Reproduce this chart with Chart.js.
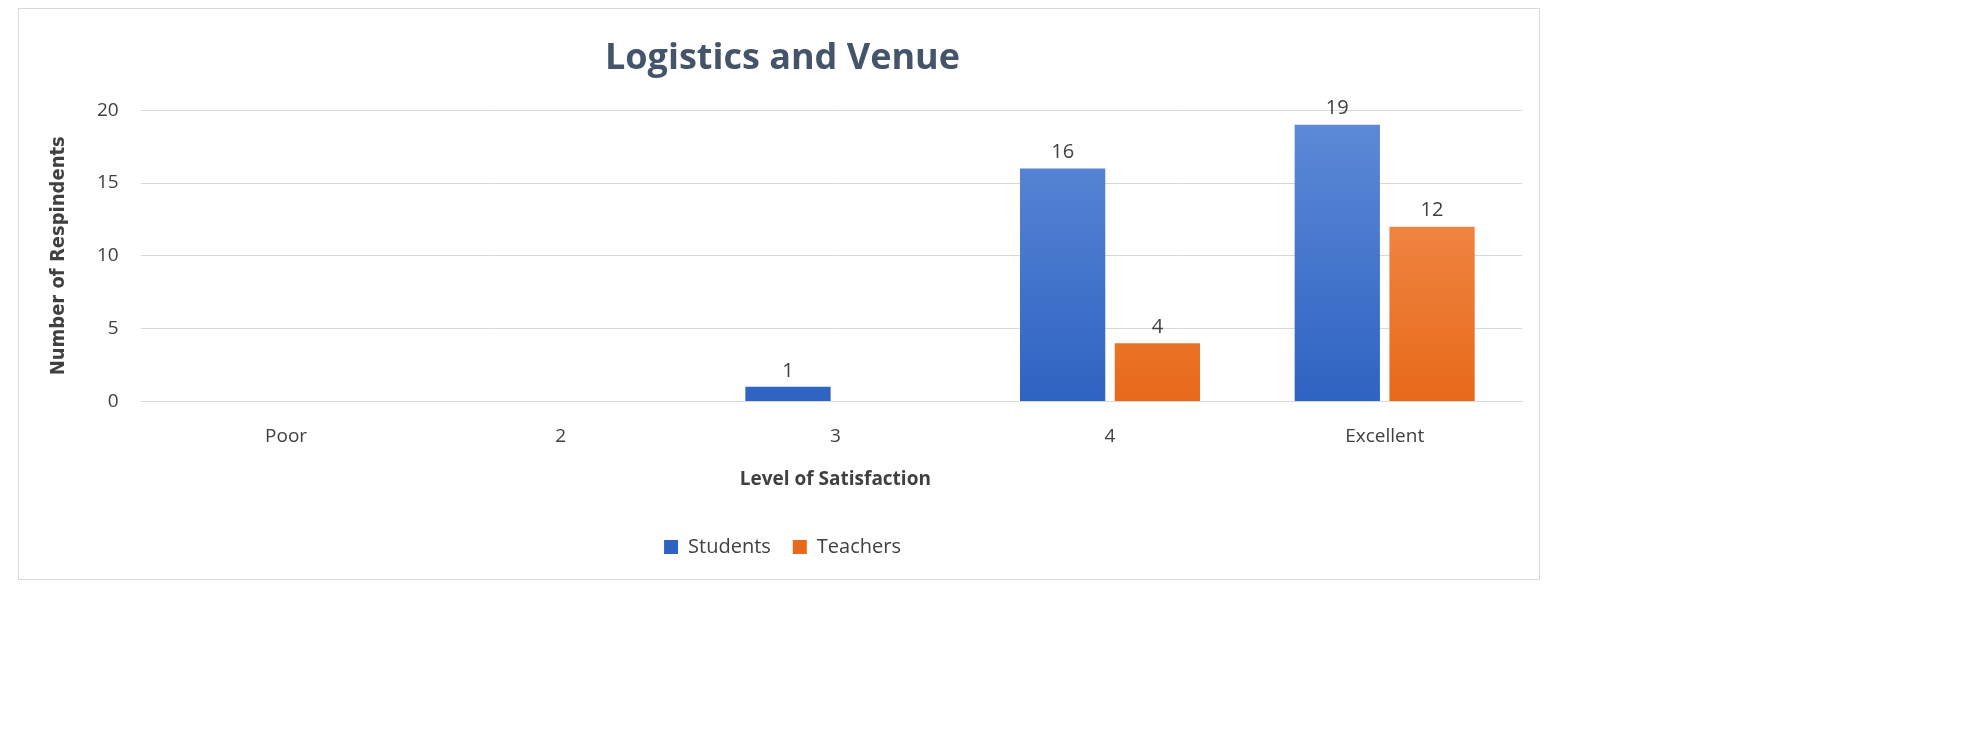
<!DOCTYPE html>
<html>
<head>
<meta charset="utf-8">
<script src="https://cdn.jsdelivr.net/npm/chart.js@4"></script>
<style>
  body { margin: 0; background: #fff; }
  #box { position: absolute; left: 18px; top: 8px; width: 1522px; height: 572px; border: 1px solid #d9d9d9; box-sizing: border-box; }
</style>
</head>
<body>
<div id="box"><canvas id="c"></canvas></div>
<script>
const levels = ['Poor', '2', '3', '4', 'Excellent'];
const students = [0, 0, 1, 16, 19];
const teachers = [0, 0, 0, 4, 12];

// vertical gradient for bars
function grad(ctx, top, bottom) {
    const area = ctx.chart.chartArea;
    if (!area) return bottom;
    const g = ctx.chart.ctx.createLinearGradient(0, area.top, 0, area.bottom);
    g.addColorStop(0, top);
    g.addColorStop(1, bottom);
    return g;
}

const labelPlugin = {
    id: 'vals',
    afterDatasetsDraw(chart) {
        const c = chart.ctx;
        c.save();
        c.font = '20px "Open Sans"';
        c.fillStyle = '#404040';
        c.textAlign = 'center';
        chart.data.datasets.forEach((ds, i) => {
            chart.getDatasetMeta(i).data.forEach((bar, j) => {
                if (ds.data[j] > 0) c.fillText(ds.data[j], bar.x, bar.y - 16);
            });
        });
        c.restore();
    }
};

new Chart(document.getElementById('c'), {
    type: 'bar',
    data: {
        labels: levels,
        datasets: [
            { label: 'Students', data: students, backgroundColor: ctx => grad(ctx, '#5F8BD8', '#2F63C2') },
            { label: 'Teachers', data: teachers, backgroundColor: ctx => grad(ctx, '#F3965C', '#E8691A') }
        ]
    },
    options: {
        responsive: true,
        maintainAspectRatio: false,
        animation: false,
        categoryPercentage: 0.69,
        barPercentage: 0.9,
        layout: { padding: { left: 24, right: 17, top: 10, bottom: 12 } },
        plugins: {
            title: {
                display: true,
                text: 'Logistics and Venue',
                color: '#44546A',
                font: { family: 'Open Sans', size: 36, weight: 'bold' },
                padding: { top: 18, bottom: 30 }
            },
            legend: {
                position: 'bottom',
                labels: {
                    boxWidth: 14, boxHeight: 14, padding: 22,
                    color: '#404040',
                    font: { family: 'Open Sans', size: 20 }
                }
            },
            tooltip: { enabled: false }
        },
        scales: {
            x: {
                grid: { display: false },
                border: { color: '#d9d9d9' },
                ticks: { color: '#404040', font: { family: 'Open Sans', size: 19 }, padding: 16 },
                title: {
                    display: true, text: 'Level of Satisfaction', color: '#404040',
                    font: { family: 'Open Sans', size: 19, weight: 'bold' }, padding: { top: 4, bottom: 24 }
                }
            },
            y: {
                min: 0, max: 20,
                ticks: { stepSize: 5, color: '#404040', font: { family: 'Open Sans', size: 19 }, padding: 22 },
                grid: { color: '#d9d9d9' },
                border: { display: false },
                title: {
                    display: true, text: 'Number of Respindents', color: '#404040',
                    font: { family: 'DejaVu Sans Condensed', size: 20, weight: 'bold' }
                }
            }
        }
    },
    plugins: [labelPlugin]
});
</script>
</body>
</html>
